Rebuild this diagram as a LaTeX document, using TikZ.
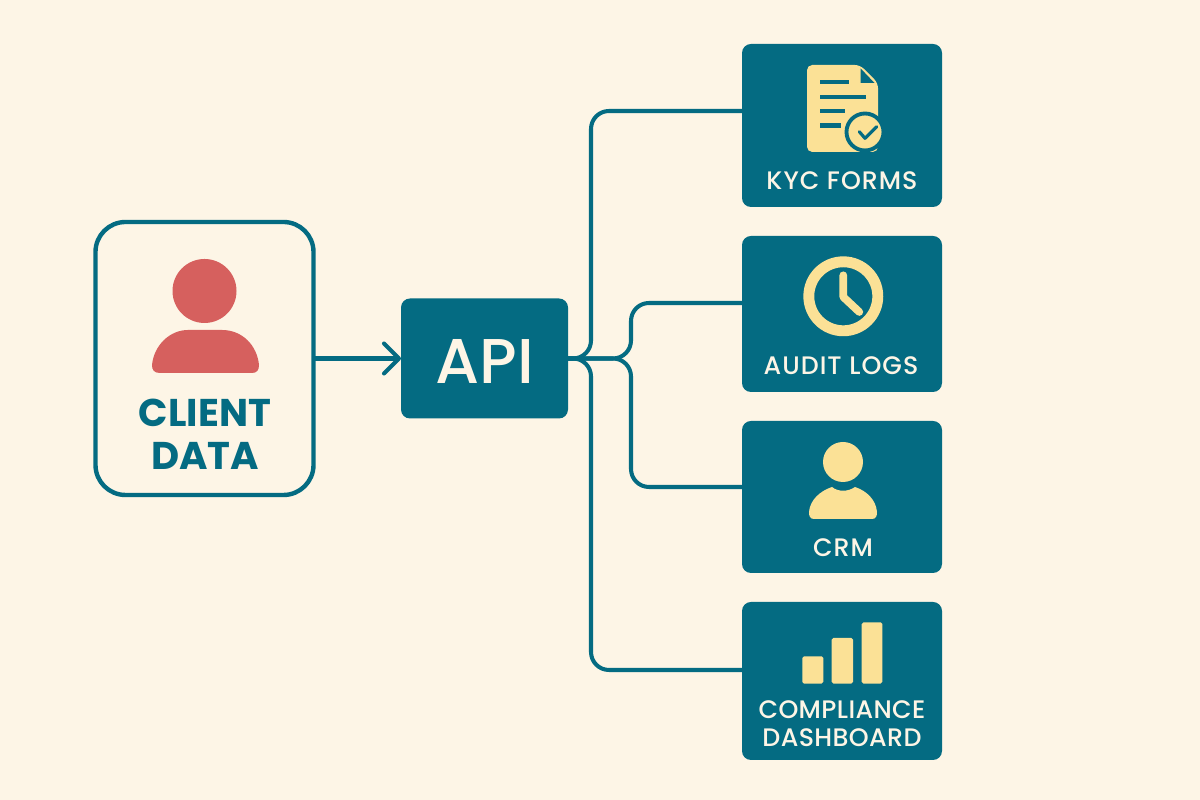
\documentclass[tikz,border=0pt]{standalone}
\usepackage{fontspec}
\setmainfont{Poppins}
\newfontfamily\tagfont[LetterSpace=4]{Poppins Medium}
\newfontfamily\tightfont[LetterSpace=1.5]{Poppins Medium}
\newfontfamily\apifont{Poppins Medium}
\usetikzlibrary{arrows.meta}
\definecolor{paper}{HTML}{FDF5E6}
\definecolor{teal}{HTML}{046B82}
\definecolor{gold}{HTML}{FBE196}
\definecolor{coral}{HTML}{D6605E}
\tikzset{
	service/.style={fill=teal,rounded corners=0.09cm,minimum width=2cm,outer sep=0pt},
	tag/.style={text=paper,inner sep=0pt,font=\tagfont\fontsize{7.2}{8}\selectfont},
	tighttag/.style={text=paper,inner sep=0pt,font=\tightfont\fontsize{7.2}{8}\selectfont},
	heading/.style={text=teal,inner sep=0pt,font=\bfseries\fontsize{11}{12}\selectfont},
	link/.style={draw=teal,line width=1.15pt,rounded corners=0.18cm},
	bar/.style={fill=gold,rounded corners=0.5pt},
	rule/.style={draw=teal,line width=1.4pt}
}

\begin{document}
\begin{tikzpicture}
\useasboundingbox (0,0) rectangle (12,8);
\fill[paper] (0,0) rectangle (12,8);

\node[draw=teal,line width=1.25pt,rounded corners=0.3cm,minimum width=2.18cm,minimum height=2.73cm,outer sep=0pt] (client) at (2.045,4.415) {};
\node[service,minimum width=1.67cm,minimum height=1.2cm] (api) at (4.845,4.415) {};
\node[service,minimum height=1.63cm] (kyc) at (8.42,6.745) {};
\node[service,minimum height=1.56cm] (audit) at (8.42,4.86) {};
\node[service,minimum height=1.52cm] (crm) at (8.42,3.03) {};
\node[service,minimum height=1.58cm] (dash) at (8.42,1.19) {};

\coordinate (kyc port) at (7.42,6.89);
\coordinate (audit port) at (7.42,4.97);
\coordinate (crm port) at (7.42,3.13);
\coordinate (dash port) at (7.42,1.30);
\coordinate (kyc bend) at (5.91,6.89);
\coordinate (audit bend) at (6.31,4.97);
\coordinate (crm bend) at (6.31,3.13);
\coordinate (dash bend) at (5.91,1.30);

\draw[link,-{Straight Barb[length=0.15cm,width=0.3cm,round]}] (client.east)--(api.west);
\draw[link](api.east) -| (kyc bend)--(kyc port);
\draw[link](api.east) -| (audit bend)--(audit port);
\draw[link](api.east) -| (crm bend)--(crm port);
\draw[link](api.east) -| (dash bend)--(dash port);

% client
\node[circle,fill=coral,minimum size=0.64cm,inner sep=0pt] (head) at (2.045,5.09) {};
\fill[coral] (1.60,4.27) .. controls (1.54,4.27) and (1.52,4.30) .. (1.52,4.35) .. controls (1.54,4.55) and (1.70,4.70) .. (1.88,4.70) -- (2.22,4.70) .. controls (2.42,4.70) and (2.57,4.55) .. (2.59,4.35) .. controls (2.59,4.30) and (2.57,4.27) .. (2.52,4.27) -- cycle;
\node[heading] (client a) at (2.05,3.87) {CLIENT};
\node[heading] (client b) at (2.05,3.44) {DATA};

\node[text=paper,inner sep=0pt,font=\apifont\fontsize{18}{19}\selectfont] (api text) at (4.85,4.39) {API};

% forms
\fill[gold,rounded corners=1.5pt] (8.07,6.48) -- (8.07,7.35) -- (8.60,7.35) -- (8.78,7.17) -- (8.78,6.48) -- cycle;
\fill[teal] (8.607,7.315) -- (8.607,7.17) -- (8.745,7.17) -- cycle;
\draw[rule] (8.20,7.18)--(8.49,7.18);
\draw[rule] (8.20,7.03)--(8.66,7.03);
\draw[rule] (8.20,6.89)--(8.45,6.89);
\draw[rule] (8.20,6.745)--(8.41,6.745);
\node[circle,fill=gold,draw=teal,line width=1.1pt,minimum size=0.37cm,inner sep=0pt] (badge) at (8.65,6.68) {};
\draw[teal,line width=0.9pt,line cap=round,line join=round] (8.593,6.683)--(8.65,6.617)--(8.767,6.733);
\node[tag] (kyc text) at (8.42,6.195) {KYC FORMS};

% logs
\node[circle,draw=gold,line width=3.1pt,minimum size=0.69cm,inner sep=0pt] (dial) at (8.433,5.037) {};
\draw[gold,line width=2.2pt,line cap=round,line join=round] (8.433,5.247)--(8.433,5.03)--(8.593,4.88);
\node[tag] (audit text) at (8.41,4.345) {AUDIT LOGS};

% crm
\node[circle,fill=gold,minimum size=0.4cm,inner sep=0pt] (crm head) at (8.43,3.38) {};
\fill[gold] (8.14,2.81) .. controls (8.10,2.81) and (8.09,2.84) .. (8.09,2.88) .. controls (8.10,3.00) and (8.20,3.09) .. (8.32,3.13) .. controls (8.38,3.08) and (8.48,3.08) .. (8.55,3.13) .. controls (8.67,3.09) and (8.76,3.00) .. (8.77,2.88) .. controls (8.77,2.84) and (8.76,2.81) .. (8.72,2.81) -- cycle;
\node[tag] (crm text) at (8.43,2.525) {CRM};

% dashboard
\fill[bar] (8.023,1.163) rectangle (8.233,1.437);
\fill[bar] (8.317,1.163) rectangle (8.53,1.62);
\fill[bar] (8.617,1.163) rectangle (8.823,1.777);
\node[tighttag] (dash a) at (8.42,0.905) {COMPLIANCE};
\node[tighttag] (dash b) at (8.42,0.625) {DASHBOARD};
\end{tikzpicture}
\end{document}
